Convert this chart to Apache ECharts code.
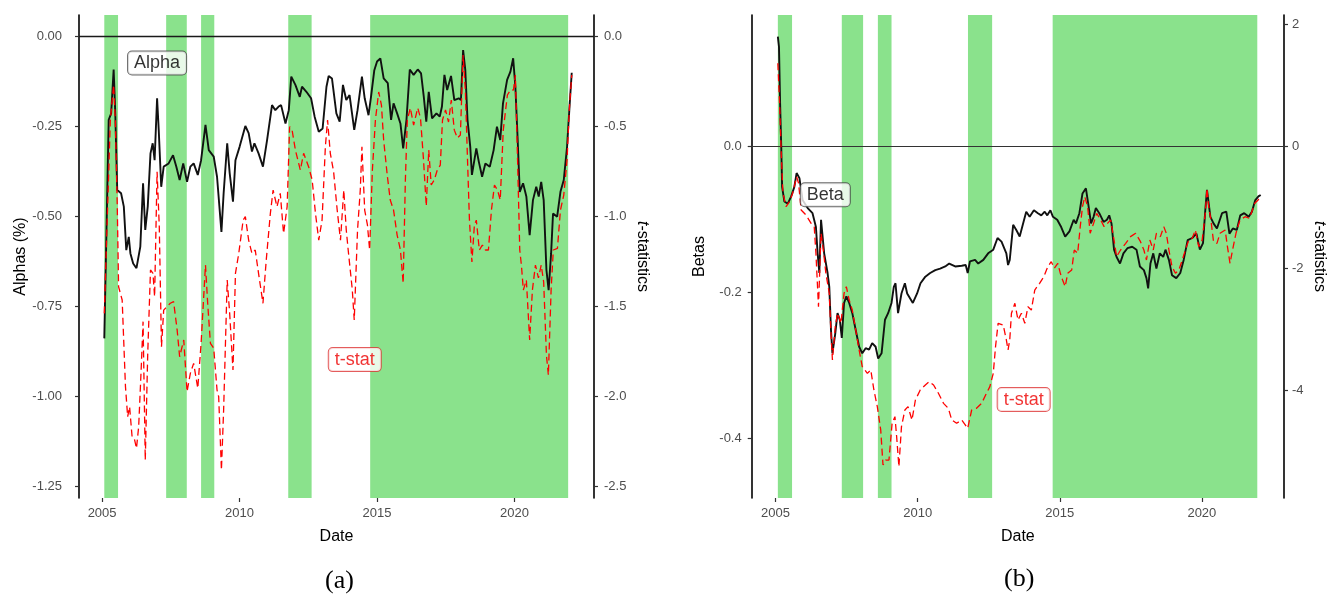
<!DOCTYPE html>
<html><head><meta charset="utf-8">
<script src="https://cdn.jsdelivr.net/npm/echarts@6/dist/echarts.min.js"></script>
<style>html,body{margin:0;padding:0;background:#fff}#c{width:1328px;height:603px}</style>
</head><body><div id="c"></div>
<script>
// ---- tick values ----
const xTicks = [2005, 2010, 2015, 2020];
const alphaTicks = [0, -0.25, -0.5, -0.75, -1, -1.25];
const alphaTTicks = [0, -0.5, -1, -1.5, -2, -2.5];
const betaTicks = [0, -0.2, -0.4];
const betaTTicks = [2, 0, -2, -4];

// ---- shaded periods (decimal years) ----
const shadeStart = [2005.08, 2007.33, 2008.60, 2011.77, 2014.75];
const shadeEnd   = [2005.58, 2008.08, 2009.08, 2012.62, 2021.95];

// ---- panel (a): rolling alpha (%) ----
const alphaDates = [2005.08,2005.24,2005.33,2005.42,2005.48,2005.55,2005.69,2005.79,2005.88,2005.97,2006.03,2006.13,2006.25,2006.39,2006.49,2006.57,2006.66,2006.76,2006.84,2006.91,2007.00,2007.06,2007.15,2007.24,2007.42,2007.58,2007.70,2007.82,2007.95,2008.09,2008.21,2008.33,2008.48,2008.60,2008.76,2008.88,2009.06,2009.18,2009.34,2009.42,2009.55,2009.64,2009.76,2009.85,2010.00,2010.21,2010.33,2010.45,2010.54,2010.69,2010.85,2011.00,2011.18,2011.30,2011.42,2011.51,2011.67,2011.79,2011.88,2012.03,2012.19,2012.27,2012.43,2012.60,2012.73,2012.88,2013.02,2013.16,2013.24,2013.36,2013.52,2013.64,2013.76,2013.88,2014.00,2014.17,2014.29,2014.45,2014.55,2014.69,2014.78,2014.90,2015.00,2015.12,2015.24,2015.39,2015.51,2015.60,2015.73,2015.85,2015.95,2016.07,2016.19,2016.33,2016.48,2016.60,2016.70,2016.79,2016.88,2017.00,2017.16,2017.28,2017.36,2017.45,2017.55,2017.69,2017.81,2017.97,2018.05,2018.13,2018.21,2018.29,2018.39,2018.45,2018.61,2018.70,2018.82,2018.94,2019.10,2019.24,2019.36,2019.48,2019.58,2019.73,2019.85,2019.95,2020.03,2020.11,2020.19,2020.31,2020.43,2020.55,2020.67,2020.79,2020.88,2020.97,2021.06,2021.16,2021.24,2021.33,2021.40,2021.55,2021.67,2021.79,2021.91,2022.00,2022.08];
const alphaValues = [-0.838,-0.231,-0.213,-0.091,-0.213,-0.426,-0.435,-0.472,-0.593,-0.556,-0.602,-0.630,-0.643,-0.583,-0.407,-0.537,-0.472,-0.324,-0.296,-0.343,-0.171,-0.259,-0.417,-0.361,-0.352,-0.329,-0.361,-0.398,-0.352,-0.403,-0.361,-0.352,-0.384,-0.343,-0.245,-0.315,-0.333,-0.389,-0.542,-0.435,-0.296,-0.379,-0.458,-0.343,-0.306,-0.248,-0.268,-0.319,-0.296,-0.324,-0.361,-0.287,-0.190,-0.204,-0.194,-0.190,-0.241,-0.204,-0.111,-0.134,-0.167,-0.139,-0.153,-0.171,-0.222,-0.264,-0.255,-0.139,-0.109,-0.116,-0.213,-0.236,-0.134,-0.176,-0.162,-0.259,-0.204,-0.111,-0.171,-0.218,-0.167,-0.093,-0.069,-0.060,-0.116,-0.129,-0.231,-0.185,-0.213,-0.241,-0.310,-0.231,-0.091,-0.106,-0.091,-0.102,-0.167,-0.236,-0.153,-0.227,-0.213,-0.222,-0.194,-0.106,-0.148,-0.109,-0.176,-0.171,-0.176,-0.037,-0.093,-0.231,-0.306,-0.384,-0.310,-0.347,-0.389,-0.352,-0.361,-0.315,-0.250,-0.287,-0.185,-0.120,-0.097,-0.060,-0.139,-0.278,-0.431,-0.407,-0.444,-0.551,-0.454,-0.417,-0.444,-0.403,-0.454,-0.648,-0.704,-0.602,-0.491,-0.500,-0.431,-0.398,-0.306,-0.194,-0.100];

// ---- panel (a): t-statistics of alpha ----
const alphaTDates = [2005.08,2005.30,2005.42,2005.48,2005.55,2005.60,2005.73,2005.85,2005.93,2006.00,2006.09,2006.17,2006.25,2006.33,2006.42,2006.49,2006.57,2006.66,2006.76,2006.85,2006.91,2007.00,2007.08,2007.16,2007.24,2007.36,2007.48,2007.60,2007.73,2007.82,2007.97,2008.09,2008.21,2008.33,2008.48,2008.60,2008.76,2008.84,2008.94,2009.06,2009.18,2009.24,2009.34,2009.42,2009.55,2009.64,2009.76,2009.85,2009.97,2010.13,2010.21,2010.33,2010.45,2010.57,2010.69,2010.85,2010.97,2011.12,2011.22,2011.36,2011.48,2011.60,2011.73,2011.82,2011.91,2012.03,2012.21,2012.33,2012.51,2012.64,2012.76,2012.88,2013.00,2013.12,2013.20,2013.30,2013.42,2013.55,2013.67,2013.79,2013.88,2013.95,2014.10,2014.17,2014.29,2014.39,2014.45,2014.55,2014.65,2014.73,2014.83,2014.94,2015.06,2015.16,2015.24,2015.37,2015.48,2015.60,2015.73,2015.85,2015.95,2016.03,2016.10,2016.21,2016.33,2016.48,2016.58,2016.69,2016.79,2016.88,2016.97,2017.08,2017.19,2017.30,2017.38,2017.49,2017.60,2017.70,2017.81,2017.92,2018.03,2018.13,2018.21,2018.29,2018.36,2018.45,2018.54,2018.61,2018.72,2018.83,2018.94,2019.05,2019.16,2019.27,2019.38,2019.48,2019.59,2019.74,2019.85,2019.96,2020.03,2020.11,2020.19,2020.25,2020.32,2020.43,2020.55,2020.65,2020.76,2020.87,2020.97,2021.06,2021.16,2021.23,2021.33,2021.41,2021.56,2021.67,2021.79,2021.91,2021.99,2022.08];
const alphaTValues = [-1.537,-0.463,-0.268,-0.463,-0.926,-1.389,-1.463,-1.944,-2.111,-2.056,-2.222,-2.231,-2.287,-2.167,-1.852,-1.583,-2.352,-1.759,-1.296,-1.315,-1.444,-0.750,-1.056,-1.722,-1.519,-1.500,-1.481,-1.472,-1.630,-1.778,-1.685,-1.972,-1.870,-1.815,-1.953,-1.704,-1.268,-1.481,-1.704,-1.731,-1.963,-2.000,-2.407,-2.074,-1.352,-1.537,-1.852,-1.315,-1.204,-1.019,-1.000,-1.130,-1.204,-1.185,-1.315,-1.481,-1.241,-0.981,-0.852,-0.944,-0.870,-1.093,-0.944,-0.500,-0.519,-0.630,-0.741,-0.648,-0.722,-0.796,-0.981,-1.130,-1.019,-0.611,-0.463,-0.648,-0.750,-0.963,-1.130,-0.852,-1.074,-1.185,-1.407,-1.574,-1.074,-0.852,-0.611,-0.963,-1.046,-1.185,-0.741,-0.463,-0.307,-0.380,-0.574,-0.769,-0.907,-0.963,-1.102,-1.185,-1.370,-0.796,-0.463,-0.396,-0.491,-0.396,-0.452,-0.685,-0.941,-0.630,-0.824,-0.796,-0.741,-0.713,-0.463,-0.407,-0.474,-0.352,-0.519,-0.563,-0.546,-0.102,-0.296,-0.685,-1.019,-1.252,-1.046,-1.019,-1.185,-1.157,-1.185,-1.185,-0.963,-0.824,-0.852,-0.907,-0.519,-0.324,-0.296,-0.296,-0.213,-0.685,-1.185,-1.269,-1.407,-1.352,-1.685,-1.407,-1.269,-1.340,-1.269,-1.363,-1.769,-1.880,-1.407,-1.185,-1.176,-0.963,-0.880,-0.685,-0.407,-0.213];

// ---- panel (b): rolling beta ----
const betaDates = [2005.08,2005.12,2005.16,2005.20,2005.23,2005.31,2005.43,2005.55,2005.66,2005.74,2005.84,2005.95,2006.13,2006.30,2006.42,2006.48,2006.54,2006.60,2006.65,2006.71,2006.83,2006.89,2006.95,2007.00,2007.10,2007.18,2007.26,2007.33,2007.41,2007.49,2007.59,2007.70,2007.82,2007.94,2008.05,2008.17,2008.29,2008.40,2008.52,2008.61,2008.73,2008.85,2008.96,2009.08,2009.16,2009.22,2009.31,2009.43,2009.55,2009.63,2009.83,2009.98,2010.10,2010.27,2010.44,2010.62,2010.79,2010.97,2011.11,2011.32,2011.55,2011.69,2011.76,2011.84,2012.02,2012.13,2012.31,2012.48,2012.66,2012.81,2012.95,2013.12,2013.18,2013.24,2013.36,2013.47,2013.59,2013.71,2013.82,2013.94,2014.09,2014.23,2014.35,2014.47,2014.56,2014.67,2014.76,2014.91,2015.05,2015.19,2015.34,2015.49,2015.57,2015.69,2015.80,2015.92,2016.00,2016.10,2016.19,2016.27,2016.39,2016.54,2016.66,2016.74,2016.82,2016.91,2017.00,2017.12,2017.24,2017.38,2017.55,2017.70,2017.82,2017.96,2018.05,2018.11,2018.19,2018.29,2018.40,2018.52,2018.64,2018.72,2018.84,2018.95,2019.10,2019.24,2019.36,2019.50,2019.66,2019.81,2019.93,2020.04,2020.12,2020.18,2020.30,2020.41,2020.53,2020.71,2020.86,2020.97,2021.09,2021.23,2021.35,2021.49,2021.65,2021.76,2021.88,2021.99,2022.07];
const betaValues = [0.150,0.136,0.058,-0.001,-0.056,-0.076,-0.079,-0.069,-0.056,-0.037,-0.044,-0.074,-0.085,-0.092,-0.111,-0.147,-0.174,-0.101,-0.101,-0.147,-0.174,-0.193,-0.252,-0.284,-0.257,-0.229,-0.238,-0.263,-0.215,-0.206,-0.215,-0.229,-0.252,-0.275,-0.284,-0.277,-0.279,-0.270,-0.275,-0.291,-0.284,-0.238,-0.229,-0.215,-0.193,-0.188,-0.229,-0.202,-0.188,-0.202,-0.215,-0.202,-0.188,-0.179,-0.174,-0.170,-0.168,-0.165,-0.161,-0.165,-0.164,-0.163,-0.174,-0.158,-0.156,-0.161,-0.156,-0.147,-0.142,-0.126,-0.131,-0.147,-0.163,-0.156,-0.108,-0.115,-0.124,-0.106,-0.090,-0.097,-0.088,-0.092,-0.095,-0.090,-0.095,-0.088,-0.097,-0.101,-0.111,-0.124,-0.117,-0.101,-0.106,-0.092,-0.065,-0.058,-0.079,-0.106,-0.097,-0.085,-0.092,-0.104,-0.101,-0.095,-0.106,-0.142,-0.152,-0.161,-0.147,-0.140,-0.138,-0.142,-0.165,-0.170,-0.181,-0.195,-0.161,-0.147,-0.168,-0.147,-0.152,-0.142,-0.156,-0.177,-0.181,-0.174,-0.156,-0.129,-0.126,-0.120,-0.142,-0.133,-0.088,-0.060,-0.097,-0.106,-0.113,-0.092,-0.090,-0.120,-0.113,-0.115,-0.095,-0.092,-0.097,-0.090,-0.074,-0.069,-0.067];

// ---- panel (b): t-statistics of beta ----
const betaTDates = [2005.08,2005.14,2005.20,2005.26,2005.37,2005.49,2005.60,2005.74,2005.81,2005.90,2006.07,2006.25,2006.36,2006.42,2006.51,2006.60,2006.68,2006.77,2006.89,2006.95,2007.00,2007.10,2007.18,2007.30,2007.41,2007.49,2007.59,2007.70,2007.82,2007.94,2008.05,2008.23,2008.35,2008.46,2008.58,2008.70,2008.78,2008.87,2008.99,2009.10,2009.20,2009.26,2009.34,2009.43,2009.55,2009.66,2009.80,2009.92,2010.09,2010.27,2010.41,2010.56,2010.73,2010.91,2011.08,2011.20,2011.37,2011.55,2011.76,2011.90,2012.07,2012.25,2012.42,2012.54,2012.66,2012.74,2012.83,2013.01,2013.12,2013.18,2013.24,2013.30,2013.42,2013.53,2013.65,2013.77,2013.88,2014.00,2014.12,2014.29,2014.44,2014.58,2014.70,2014.81,2014.93,2015.02,2015.10,2015.19,2015.28,2015.42,2015.51,2015.63,2015.72,2015.80,2015.88,2015.98,2016.07,2016.19,2016.30,2016.44,2016.56,2016.68,2016.79,2016.89,2017.00,2017.14,2017.32,2017.49,2017.67,2017.84,2017.96,2018.05,2018.17,2018.29,2018.40,2018.54,2018.66,2018.75,2018.84,2018.95,2019.07,2019.19,2019.31,2019.42,2019.54,2019.66,2019.77,2019.89,2020.01,2020.12,2020.18,2020.24,2020.32,2020.41,2020.53,2020.64,2020.82,2020.90,2020.99,2021.08,2021.20,2021.34,2021.52,2021.67,2021.78,2021.86,2021.98,2022.07];
const betaTValues = [1.356,0.700,-0.120,-0.775,-0.995,-0.913,-0.775,-0.503,-0.612,-1.049,-1.131,-1.268,-1.322,-1.759,-2.634,-1.431,-1.705,-2.087,-2.415,-3.071,-3.508,-2.962,-2.743,-2.907,-2.415,-2.306,-2.525,-2.689,-3.016,-3.344,-3.617,-3.727,-3.672,-4.000,-4.273,-4.656,-5.230,-5.148,-5.148,-4.546,-4.437,-4.765,-5.257,-4.601,-4.328,-4.273,-4.492,-4.164,-4.000,-3.918,-3.863,-3.918,-4.054,-4.219,-4.300,-4.492,-4.546,-4.492,-4.628,-4.328,-4.300,-4.219,-4.054,-3.945,-3.727,-3.290,-2.907,-2.934,-3.180,-3.344,-3.180,-2.743,-2.579,-2.852,-2.743,-2.907,-2.634,-2.689,-2.361,-2.251,-2.142,-1.978,-1.896,-2.005,-1.923,-2.087,-2.197,-2.306,-2.087,-2.033,-1.705,-1.759,-1.322,-0.995,-0.831,-0.995,-1.431,-1.268,-1.104,-1.213,-1.322,-1.268,-1.213,-1.486,-1.814,-1.705,-1.596,-1.486,-1.431,-1.568,-1.705,-1.869,-1.541,-1.705,-1.431,-1.486,-1.322,-1.431,-1.705,-1.978,-2.087,-2.033,-1.869,-1.705,-1.541,-1.514,-1.377,-1.650,-1.541,-1.104,-0.694,-0.995,-1.213,-1.568,-1.596,-1.431,-1.377,-1.650,-1.923,-1.705,-1.431,-1.213,-1.159,-1.185,-1.049,-0.940,-0.885,-0.820];

const zip = (a, b) => a.map((v, i) => [v, b[i]]);
const SANS = '"Liberation Sans", Arial, sans-serif';
const GREEN = '#8AE28C';
const shadeData = shadeStart.map((s, i) => [{ xAxis: s }, { xAxis: shadeEnd[i] }]);

function xAxisOpt(idx) {
  return {
    type: 'value', gridIndex: idx, min: 2004.16, max: 2022.89, position: 'bottom',
    name: 'Date', nameLocation: 'middle', nameGap: 31,
    nameTextStyle: { fontFamily: SANS, fontSize: 16, color: '#000' },
    axisLine: { show: false, onZero: false },
    axisTick: { show: true, length: 4, customValues: xTicks, lineStyle: { color: '#333', width: 1.2 } },
    axisLabel: { customValues: xTicks, color: '#4d4d4d', fontFamily: SANS, fontSize: 13, margin: 9, formatter: v => String(v) },
    splitLine: { show: false }
  };
}
function yAxisOpt(idx, pos, min, max, ticks, fmt, name, gap, rot, margin) {
  return {
    type: 'value', gridIndex: idx, position: pos, min: min, max: max,
    name: name, nameLocation: 'middle', nameGap: gap, nameRotate: rot,
    nameTextStyle: { fontFamily: SANS, fontSize: 16, color: '#000', rich: { i: { fontFamily: SANS, fontSize: 16, fontStyle: 'italic', color: '#000' } } },
    axisLine: { show: true, onZero: false, lineStyle: { color: '#000', width: 1.6 } },
    axisTick: { show: true, length: 4, customValues: ticks, lineStyle: { color: '#333', width: 1.2 } },
    axisLabel: { customValues: ticks, color: '#4d4d4d', fontFamily: SANS, fontSize: 13, margin: margin, formatter: fmt },
    splitLine: { show: false }
  };
}
function boxLabel(xi, yi, pos, text, color, border) {
  return {
    type: 'scatter', xAxisIndex: xi, yAxisIndex: yi, z: 20, silent: true,
    symbolSize: 1, itemStyle: { color: 'rgba(0,0,0,0)' },
    data: [pos],
    label: {
      show: true, position: 'inside', formatter: text, color: color,
      fontFamily: SANS, fontSize: 18, backgroundColor: '#fff',
      borderColor: border, borderWidth: 1, borderRadius: 4, padding: [3, 6, 2, 6]
    }
  };
}

const chart = echarts.init(document.getElementById('c'), null, { renderer: 'canvas' });
chart.setOption({
  animation: false,
  backgroundColor: '#fff',
  grid: [
    { left: 79, right: 734, top: 15, bottom: 105, containLabel: false },
    { left: 751.7, right: 40.7, top: 15, bottom: 105, containLabel: false }
  ],
  xAxis: [xAxisOpt(0), xAxisOpt(1)],
  yAxis: [
    yAxisOpt(0, 'left', -1.2814, 0.0603, alphaTicks, v => v.toFixed(2), 'Alphas (%)', 44, 90, 17),
    yAxisOpt(0, 'right', -2.5628, 0.1206, alphaTTicks, v => v.toFixed(1), '{i|t}-statistics', 40, -90, 10),
    yAxisOpt(1, 'left', -0.4822, 0.1795, betaTicks, v => v.toFixed(1), 'Betas', 44, 90, 10),
    yAxisOpt(1, 'right', -5.7705, 2.1475, betaTTicks, v => String(v), '{i|t}-statistics', 27, -90, 8)
  ],
  series: [
    {
      type: 'line', xAxisIndex: 0, yAxisIndex: 0, z: 3, silent: true,
      data: zip(alphaDates, alphaValues), showSymbol: false,
      lineStyle: { color: '#111', width: 1.9 },
      markArea: { silent: true, z: 1, itemStyle: { color: GREEN, opacity: 1 }, data: shadeData },
      markLine: { silent: true, symbol: 'none', label: { show: false }, z: 2,
        lineStyle: { color: '#1a1a1a', width: 1.3, type: 'solid' }, data: [{ yAxis: 0 }] }
    },
    {
      type: 'line', xAxisIndex: 0, yAxisIndex: 1, z: 4, silent: true,
      data: zip(alphaTDates, alphaTValues), showSymbol: false,
      lineStyle: { color: '#f00', width: 1.3, type: [7, 4] }
    },
    {
      type: 'line', xAxisIndex: 1, yAxisIndex: 2, z: 3, silent: true,
      data: zip(betaDates, betaValues), showSymbol: false,
      lineStyle: { color: '#111', width: 1.9 },
      markArea: { silent: true, z: 1, itemStyle: { color: GREEN, opacity: 1 }, data: shadeData },
      markLine: { silent: true, symbol: 'none', label: { show: false }, z: 2,
        lineStyle: { color: '#333', width: 1.2, type: 'solid' }, data: [{ yAxis: 0 }] }
    },
    {
      type: 'line', xAxisIndex: 1, yAxisIndex: 3, z: 4, silent: true,
      data: zip(betaTDates, betaTValues), showSymbol: false,
      lineStyle: { color: '#f00', width: 1.3, type: [7, 4] }
    },
    boxLabel(0, 0, [2007.0, -0.073], 'Alpha', '#000', '#444'),
    boxLabel(0, 0, [2014.19, -0.897], 't-stat', '#e00', '#d33'),
    boxLabel(1, 2, [2006.75, -0.0668], 'Beta', '#000', '#444'),
    boxLabel(1, 2, [2013.73, -0.3473], 't-stat', '#e00', '#d33')
  ],
  graphic: [
    { type: 'text', left: 325, top: 568, style: { text: '(a)', font: '26px "Liberation Serif", "Times New Roman", serif', fill: '#000' } },
    { type: 'text', left: 1004, top: 566, style: { text: '(b)', font: '26px "Liberation Serif", "Times New Roman", serif', fill: '#000' } }
  ]
});
</script>
</body></html>
